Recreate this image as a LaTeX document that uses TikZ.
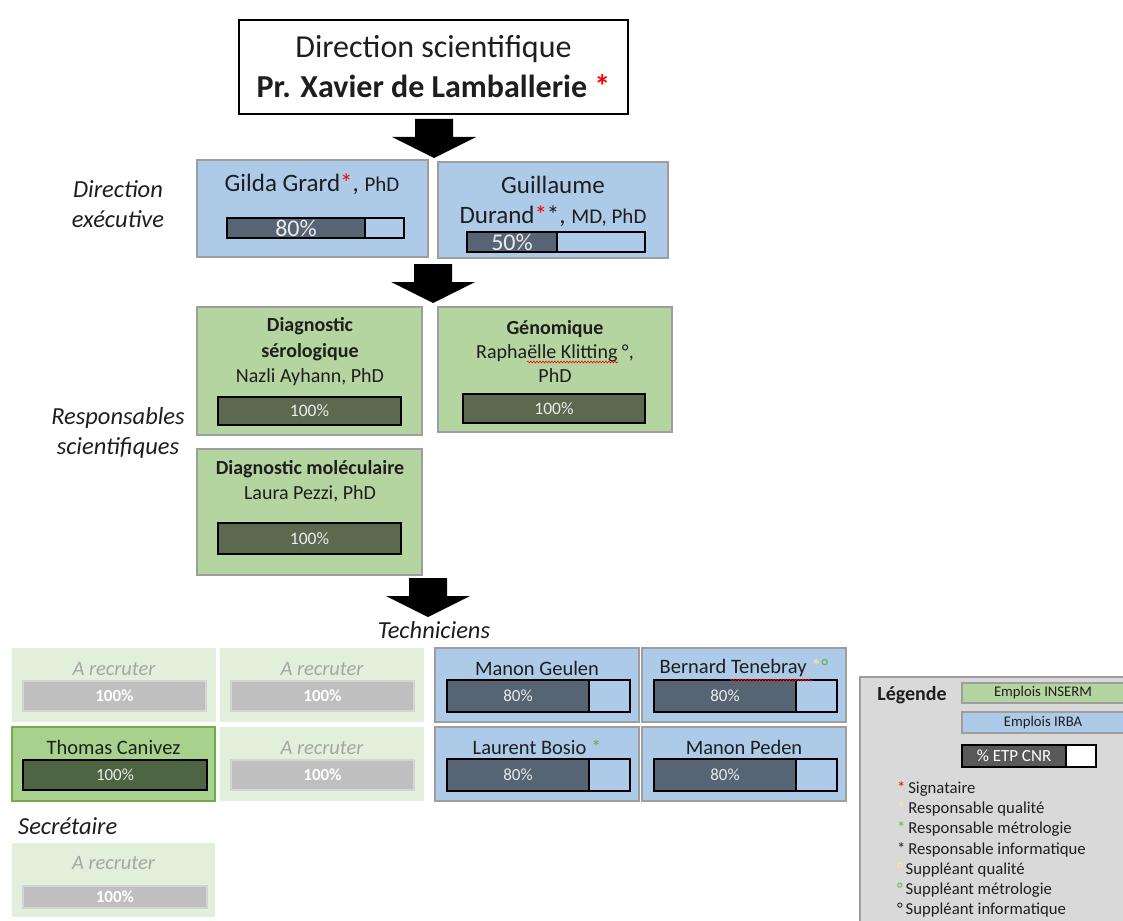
\documentclass[tikz,border=0pt]{standalone}
\usepackage{fontspec}
\setmainfont{Carlito}
\usetikzlibrary{decorations.pathmorphing}

\definecolor{irbaBlue}{HTML}{ADCBE8}
\definecolor{insermGreen}{HTML}{B5D5A0}
\definecolor{boxGray}{HTML}{9E9E9E}
\definecolor{blueBarDark}{HTML}{566473}
\definecolor{greenBarDark}{HTML}{5B6A4F}
\definecolor{paleGreen}{HTML}{E2EFDA}
\definecolor{recruitGray}{HTML}{BFBFBF}
\definecolor{recruitEdge}{HTML}{D4D4D4}
\definecolor{recruitInk}{HTML}{A6A6A6}
\definecolor{thomasGreen}{HTML}{A9D18E}
\definecolor{thomasEdge}{HTML}{70AD47}
\definecolor{thomasBar}{HTML}{4E6443}
\definecolor{legendGray}{HTML}{D9D9D9}
\definecolor{qualYellow}{HTML}{FFE699}
\definecolor{metroGreen}{HTML}{70AD47}
\definecolor{etpGray}{HTML}{595959}
\definecolor{inkBlack}{HTML}{1E1E1E}

\begin{document}
\begin{tikzpicture}[x=1pt,y=-1pt,
        sized/.style 2 args={minimum width=#1,minimum height=#2},
        topBox/.style = {draw=black,line width=2.5pt,fill=white,inner sep=0,align=center,text=inkBlack,font=\fontsize{32}{40}\selectfont},
        blueBox/.style = {draw=boxGray,line width=1.5pt,fill=irbaBlue,inner sep=0,outer sep=0,anchor=north west},
        greenBox/.style = {draw=boxGray,line width=1.5pt,fill=insermGreen,inner sep=0,outer sep=0,anchor=north west},
        recruitBox/.style = {fill=paleGreen,inner sep=0,outer sep=0,anchor=north west},
        blueBar/.style = {draw=black,line width=2.2pt,fill=blueBarDark,text=white!92!black,inner sep=0,outer sep=0,anchor=north west},
        restBar/.style = {draw=black,line width=2.2pt,fill=irbaBlue,inner sep=0,outer sep=0,anchor=north west},
        greenBar/.style = {draw=black,line width=2.2pt,fill=greenBarDark,text=white!92!black,inner sep=0,outer sep=0,anchor=north west,font=\fontsize{17.5}{20}\selectfont},
        recruitBar/.style = {draw=recruitEdge,line width=2pt,fill=recruitGray,text=white,inner sep=0,outer sep=0,anchor=north west,font=\fontsize{17}{20}\selectfont\bfseries},
        boxText/.style = {text=inkBlack,inner sep=0,align=center,font=\fontsize{20}{25}\selectfont},
        nameText/.style = {text=inkBlack,inner sep=0,align=center,font=\fontsize{20.5}{24}\selectfont},
        recruitText/.style = {text=recruitInk,inner sep=0,font=\fontsize{20.5}{24}\selectfont\itshape},
        sideText/.style = {text=inkBlack,inner sep=0,align=center,font=\fontsize{24.5}{30}\selectfont\itshape},
        legendText/.style = {text=inkBlack,inner sep=0,anchor=west,font=\fontsize{16.7}{19}\selectfont},
        swatch/.style = {draw=boxGray,line width=1.2pt,inner sep=0,outer sep=0,anchor=north west,text=inkBlack,font=\fontsize{14.7}{16}\selectfont},
        spellLine/.style = {draw=red,line width=0.6pt,decorate,decoration={snake,amplitude=0.9pt,segment length=3pt}}
        ]
        \useasboundingbox (0,0) rectangle (1123,920);

        % direction
        \node[topBox,sized={389}{94}] (dirSci) at (433.5,67) {Direction scientifique\\\textbf{Pr. Xavier de Lamballerie \textcolor{red}{*}}};

        % block arrows between the levels
        \foreach \tx/\ty in {434/158,433/303,428/617}
            \fill[black,shift={(\tx,\ty)}] (-19,-39) -- (19,-39) -- (19,-21) -- (42,-21) -- (0,0) -- (-42,-21) -- (-19,-21) -- cycle;

        % direction executive
        \node[sideText] (dirExe) at (118,204) {Direction\\exécutive};
        \node[blueBox,sized={231}{97}] (gilda) at (197,160) {};
        \node[nameText,font=\fontsize{25}{28}\selectfont] (gildaName) at (312,184) {Gilda Grard\textcolor{red}{*}, {\fontsize{21}{24}\selectfont PhD}};
        \node[blueBar,sized={138}{20},font=\fontsize{24}{24}\selectfont] (gildaPct) at (227,218) {80\%};
        \node[restBar,sized={39}{20}] (gildaRest) at (gildaPct.north east) {};

        \node[blueBox,sized={230}{96}] (durand) at (438,162) {};
        \node[nameText,font=\fontsize{25}{30}\selectfont] (durandName) at (553,201) {Guillaume\\Durand\textcolor{red}{*}*, {\fontsize{21}{24}\selectfont MD, PhD}};
        \node[blueBar,sized={90}{20},font=\fontsize{24}{24}\selectfont] (durandPct) at (467,232) {50\%};
        \node[restBar,sized={88}{20}] (durandRest) at (durandPct.north east) {};

        % responsables scientifiques
        \node[sideText] (respSci) at (118,433) {Responsables\\scientifiques};
        \node[greenBox,sized={225}{128}] (sero) at (197,307) {};
        \node[boxText,font=\fontsize{20}{25.5}\selectfont] (seroName) at (310,352) {\textbf{Diagnostic}\\\textbf{sérologique}\\Nazli Ayhann, PhD};
        \node[greenBar,sized={183}{28}] (seroPct) at (218,397) {100\%};

        \node[greenBox,sized={234}{125}] (geno) at (438,307) {};
        \node[boxText,font=\fontsize{20}{24}\selectfont] (genoName) at (555,351) {\textbf{Génomique}\\Raphaëlle Klitting °,\\PhD};
        \draw[spellLine] (527,362) -- (618,362);
        \node[greenBar,sized={182}{29}] (genoPct) at (463,394) {100\%};

        \node[greenBox,sized={225}{126}] (molec) at (197,449) {};
        \node[boxText] (molecName) at (310,481) {\textbf{Diagnostic moléculaire}\\Laura Pezzi, PhD};
        \node[greenBar,sized={183}{31}] (molecPct) at (218,523) {100\%};

        % techniciens
        \node[sideText] (techs) at (434,630) {Techniciens};
        \foreach \bx/\by/\nm in {12/648/recA,220/648/recB,220/727/recC} {
            \node[recruitBox,sized={204}{74}] (\nm) at (\bx,\by) {};
            \node[recruitText] (\nm Name) at (\bx+102,\by+21) {A recruter};
            \node[recruitBar,sized={183}{30}] (\nm Pct) at (\bx+11,\by+33) {100\%};
        }
        \node[recruitBox,fill=thomasGreen,draw=thomasEdge,line width=1.2pt,sized={203}{74}] (canivez) at (12,727) {};
        \node[nameText] (canivezName) at (113.5,747) {Thomas Canivez};
        \node[greenBar,fill=thomasBar,line width=2.5pt,font=\fontsize{17}{20}\selectfont,sized={184}{30}] (canivezPct) at (23,760) {100\%};

        \foreach \bx/\by/\nm/\who in {435/648/geulen/{Manon Geulen},642/648/tenebray/{Bernard Tenebray \textcolor{qualYellow}{*}\textcolor{metroGreen}{°}},435/727/bosio/{Laurent Bosio \textcolor{metroGreen}{*}},642/727/peden/{Manon Peden}} {
            \node[blueBox,sized={204}{74}] (\nm) at (\bx,\by) {};
            \node[nameText] (\nm Name) at (\bx+102,\by+20) {\who};
            \node[blueBar,sized={142}{32},font=\fontsize{17}{20}\selectfont] (\nm Pct) at (\bx+12,\by+32) {80\%};
            \node[restBar,sized={41}{32}] (\nm Rest) at (\nm Pct.north east) {};
        }
        \draw[spellLine] (730,680) -- (812,680);

        % secretaire
        \node[sideText,anchor=west] (secr) at (18,826) {Secrétaire};
        \node[recruitBox,sized={203}{74}] (recSec) at (12,843) {};
        \node[recruitText] (recSecName) at (113.5,863) {A recruter};
        \node[recruitBar,sized={184}{22}] (recSecPct) at (23,886) {100\%};

        % legende
        \node[draw=boxGray,line width=1.2pt,fill=legendGray,inner sep=0,outer sep=0,anchor=north west,sized={280}{260}] (legend) at (860,677) {};
        \node[text=inkBlack,inner sep=0,font=\fontsize{20}{22}\selectfont\bfseries] (legendTitle) at (912,695) {Légende};
        \node[swatch,fill=insermGreen,sized={162}{20}] (legInserm) at (962,683) {Emplois INSERM};
        \node[swatch,fill=irbaBlue,sized={162}{21}] (legIrba) at (962,712) {Emplois IRBA};
        \node[swatch,draw=black,line width=2pt,fill=etpGray,text=white,font=\fontsize{17}{18}\selectfont,sized={104}{22}] (legEtp) at (962,745) {\% ETP CNR};
        \node[swatch,draw=black,line width=2pt,fill=white,sized={30}{22}] (legEtpRest) at (legEtp.north east) {};
        \foreach \mk/\col/\txt [count=\i from 0] in {*/red/Signataire,*/qualYellow/{Responsable qualité},*/metroGreen/{Responsable métrologie},*/inkBlack/{Responsable informatique},°/qualYellow/{Suppléant qualité},°/metroGreen/{Suppléant métrologie},°/inkBlack/{Suppléant informatique}}
            \node[legendText] (legItem\i) at (897,789+20.2*\i) {\textcolor{\col}{\mk}\,\txt};
    \end{tikzpicture}
\end{document}
